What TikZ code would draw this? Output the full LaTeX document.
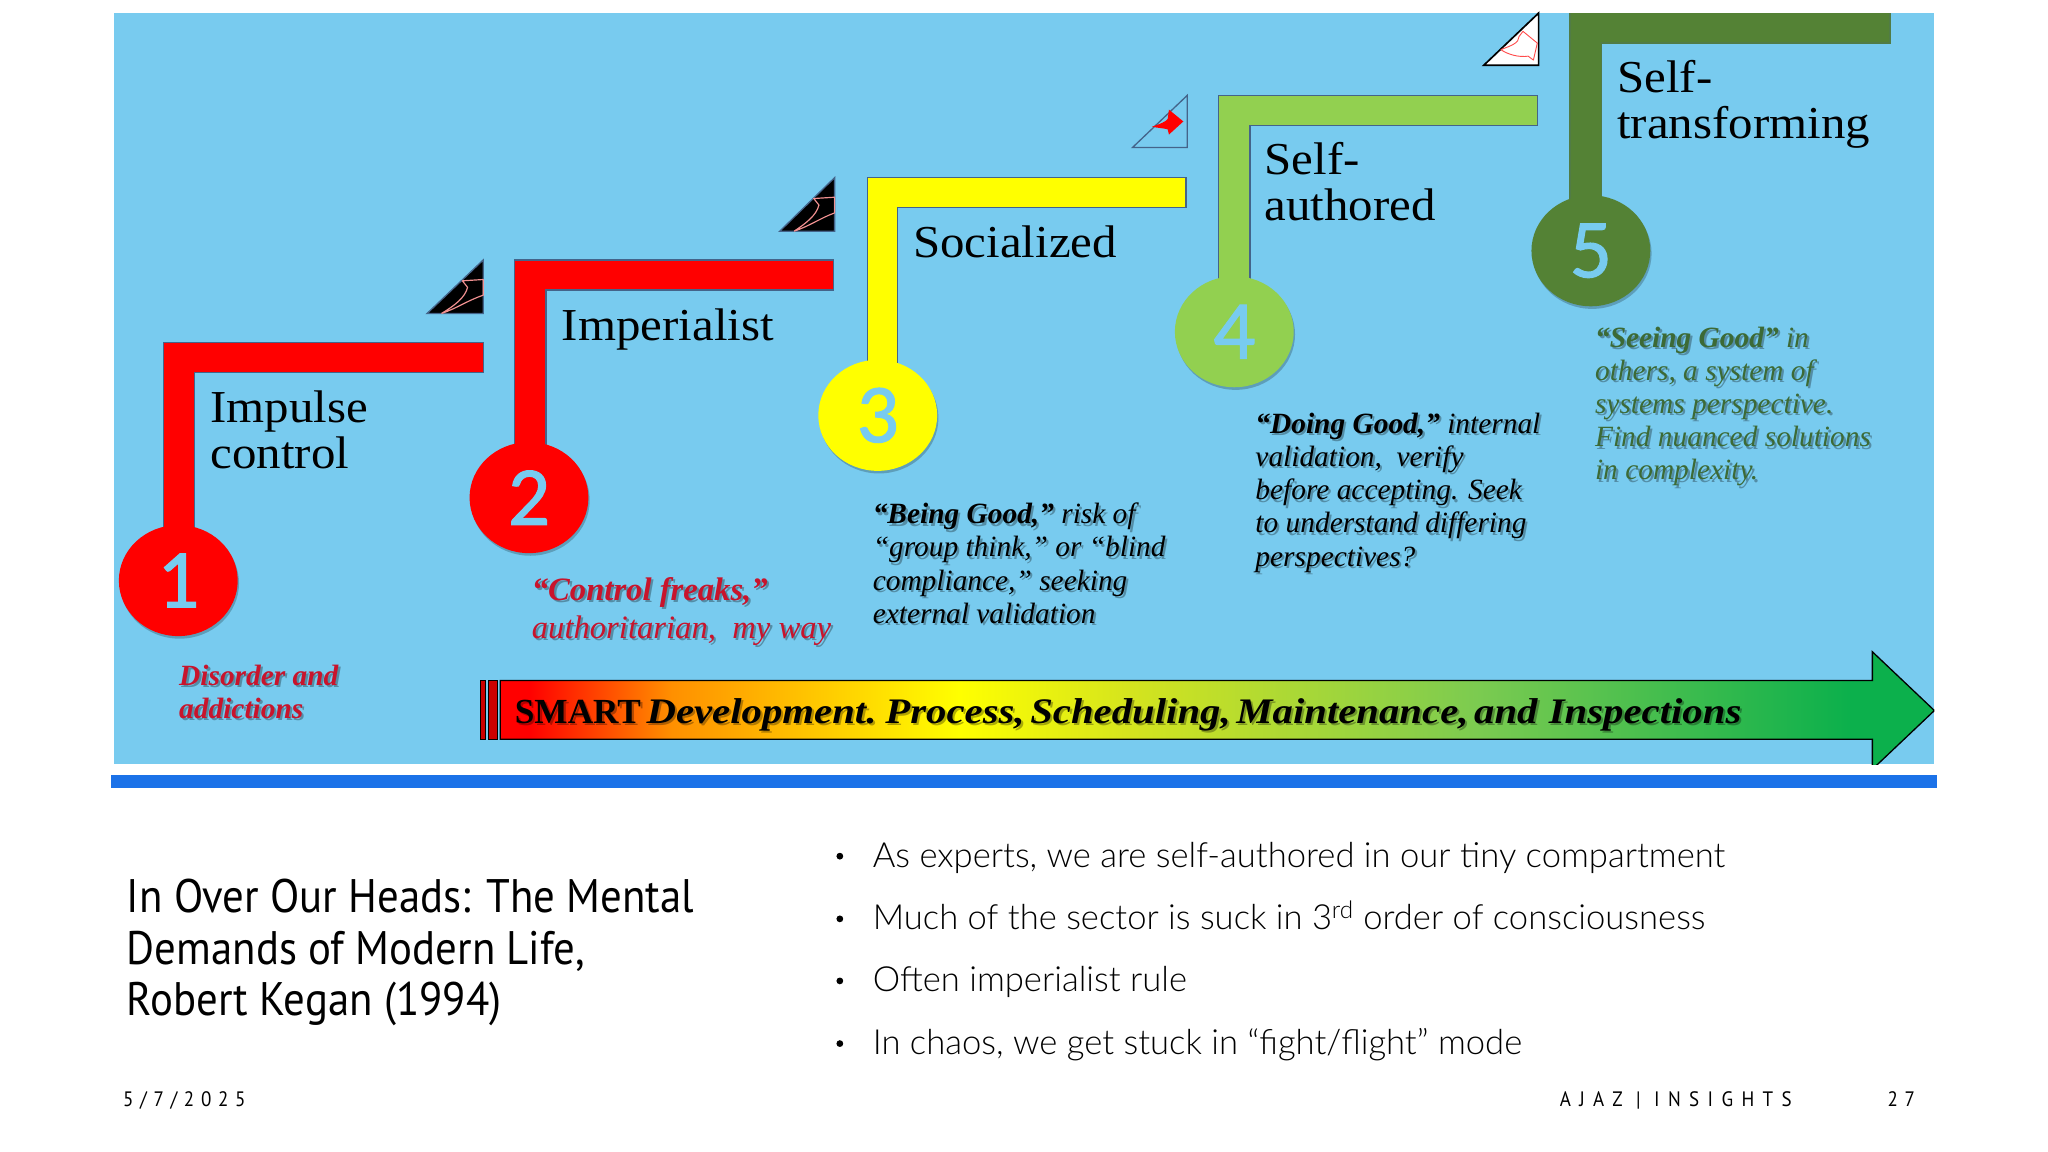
\documentclass[tikz,border=0pt]{standalone}
\usepackage{fontspec}
\usetikzlibrary{shapes.geometric,shadows}
\setmainfont{Liberation Serif}
\newfontfamily\stepfont[FakeStretch=1.07]{Liberation Serif}
\newfontfamily\notefont{Liberation Serif}
\newfontfamily\arrowfont[FakeStretch=1.135,WordSpace=0.55]{Liberation Serif}
\newfontfamily\digitfont[FakeBold=1.2]{Carlito}
\newfontfamily\dinfont{Lato Light}
\newfontfamily\dintitle[FakeStretch=0.91]{PT Sans}
\definecolor{panelblue}{HTML}{78CBEF}
\definecolor{barblue}{HTML}{1B72E8}
\definecolor{stepred}{HTML}{FF0000}
\definecolor{stepyellow}{HTML}{FFFF00}
\definecolor{steplime}{HTML}{92D050}
\definecolor{stepgreen}{HTML}{548235}
\definecolor{edgegrey}{HTML}{44648A}
\definecolor{notered}{HTML}{C8142C}
\definecolor{notegreen}{HTML}{3C6A36}
\definecolor{swoosh}{HTML}{F09090}
\definecolor{gradorange}{HTML}{FF9000}
\definecolor{gradolive}{HTML}{D4E41E}
\definecolor{gradlime}{HTML}{7CCB50}
\definecolor{gradgreen}{HTML}{0CB04C}
\pgfdeclarehorizontalshading{smartgrad}{100bp}{
 color(0bp)=(stepred); color(26bp)=(stepred); color(31bp)=(gradorange); color(41bp)=(stepyellow);
 color(47bp)=(gradolive); color(59bp)=(gradlime); color(72bp)=(gradgreen); color(100bp)=(gradgreen)}
\tikzset{
 x=1pt,y=-1pt,
 lshape/.style={draw=edgegrey,line width=1pt},
 disc/.style={ellipse,minimum width=91pt,minimum height=85pt,inner sep=0pt,text=panelblue,
   font=\digitfont\fontsize{64}{64}\selectfont,
   drop shadow={shadow xshift=1pt,shadow yshift=-2pt,opacity=.22,fill=black}},
 steplabel/.style={anchor=north west,inner sep=0pt,align=left,text=black,
   font=\stepfont\fontsize{35}{35}\selectfont},
 note/.style={anchor=north west,inner sep=0pt,align=left,
   font=\notefont\fontsize{22.5}{25.4}\selectfont\itshape},
 bignote/.style={note,font=\notefont\fontsize{25}{29}\selectfont\itshape},
 softshadow/.style={opacity=.3,text=black,xshift=1.6pt,yshift=-1.8pt},
 arrowlabel/.style={anchor=base west,inner sep=0pt,text=black,font=\arrowfont\fontsize{27.5}{30}\selectfont\bfseries},
 wedge/.style={line width=1pt},
 bodytext/.style={anchor=base west,inner sep=0pt,text=black,font=\dinfont\fontsize{26.5}{26.5}\selectfont},
 foot/.style={anchor=base west,inner sep=0pt,text=black,font=\dintitle\fontsize{16}{16}\selectfont\addfontfeature{LetterSpace=32}},
 brandfoot/.style={foot,font=\dintitle\fontsize{16}{16}\selectfont\addfontfeature{LetterSpace=40}}
}
\newcommand{\notetextA}{\textbf{Disorder and}\\\textbf{addictions}}
\newcommand{\notetextB}{\textbf{“Control freaks,”}\\authoritarian,\ \ my way}
\newcommand{\notetextC}{\textbf{“Being Good,”} risk of\\“group think,” or “blind\\compliance,” seeking\\external validation}
\newcommand{\notetextD}{\textbf{“Doing Good,”} internal\\validation,\ \ verify\\before accepting. Seek\\to understand differing\\perspectives?}
\newcommand{\notetextE}{\textbf{“Seeing Good”} in\\others, a system of\\systems perspective.\\Find nuanced solutions\\in complexity.}
\newcommand{\arrowtextstr}{{\notefont\fontsize{27}{30}\selectfont SMART} \textit{Development. Process, Scheduling, Maintenance, and\ \ Inspections}}
\begin{document}
\begin{tikzpicture}
\useasboundingbox (0,0) rectangle (1568,882);
\fill[white] (0,0) rectangle (1568,882);
% picture panel
\fill[panelblue] (87,10) rectangle (1481,585);
\fill[barblue] (85,593) rectangle (1483,603);

% L-shaped stairs
\draw[lshape,fill=stepred] (125,420) |- (370,262) |- (149,285) -- (149,420) -- cycle;
\draw[lshape,fill=stepred] (394,360) |- (638,199) |- (418,222) -- (418,360) -- cycle;
\draw[lshape,fill=stepyellow] (664,300) |- (908,136) |- (687,159) -- (687,300) -- cycle;
\draw[lshape,fill=steplime] (933,230) |- (1177,73) |- (957,96) -- (957,230) -- cycle;
\begin{scope}
\clip (87,10) rectangle (1481,585);
\draw[lshape,draw=stepgreen!80!edgegrey,fill=stepgreen] (1202,170) |- (1447,5) |- (1226,33) -- (1226,170) -- cycle;
\end{scope}

% discs
\node[disc,fill=stepred] (d1) at (136.5,444.5) {1};
\node[disc,fill=stepred] (d2) at (405,381) {2};
\node[disc,fill=stepyellow] (d3) at (672,318) {3};
\node[disc,fill=steplime] (d4) at (945,254) {4};
\node[disc,fill=stepgreen] (d5) at (1218,192) {5};

% wedges
\draw[wedge,draw=edgegrey,fill=black] (327,240) -- (370,240) -- (370,199) -- cycle;
\draw[swoosh,line width=.9pt,line join=round] (338,240) .. controls (350,236) and (358,230) .. (370,226) -- (370,214) -- (354,215) -- (358,220) .. controls (356,228) and (348,234) .. (338,240);
\draw[wedge,draw=edgegrey,fill=black] (597,177) -- (639,177) -- (639,136) -- cycle;
\draw[swoosh,line width=.9pt,line join=round] (608,177) .. controls (620,173) and (628,167) .. (639,163) -- (639,151) -- (623,152) -- (627,157) .. controls (625,165) and (617,171) .. (608,177);
\draw[wedge,draw=edgegrey] (867,113) -- (909,113) -- (909,73) -- cycle;
\fill[red] (882,97) .. controls (888,95) and (893,93) .. (894,91) -- (895,84) -- (906,93) -- (895,103) -- (894,99) .. controls (890,98) and (886,98) .. (882,97) -- cycle;
\draw[wedge,draw=black,line width=1.3pt,fill=white] (1136,50) -- (1178,50) -- (1178,10) -- cycle;
\draw[red!70!white,line width=.7pt,line join=round] (1149,38) .. controls (1157,35) and (1163,33) .. (1163,28) -- (1166,24) -- (1177,33) -- (1174,46) -- (1170,43) .. controls (1163,44) and (1155,42) .. (1149,38);

% progress arrow
\begin{scope}
\clip (87,10) rectangle (1481,585);
\fill[stepred!80!black,draw=black,line width=.6pt] (368,521) rectangle (372,566);
\fill[stepred!80!black,draw=black,line width=.6pt] (374,521) rectangle (381,566);
\path[draw=black,line width=1pt,shading=smartgrad,shading angle=0] (383,521) -- (1433.5,521) -- (1433.5,499) -- (1481,544) -- (1433.5,589) -- (1433.5,566) -- (383,566) -- cycle;
\end{scope}
\node[arrowlabel,softshadow] (arrowshadow) at (394,554) {\arrowtextstr};
\node[arrowlabel] (arrowtext) at (394,554) {\arrowtextstr};

% step labels
\node[steplabel] (l1) at (161,299) {Impulse\\control};
\node[steplabel] (l2) at (430,236) {Imperialist};
\node[steplabel] (l3) at (699,173) {Socialized};
\node[steplabel] (l4) at (968,109) {Self-\\authored};
\node[steplabel] (l5) at (1238,46) {Self-\\transforming};

% notes
\node[note,softshadow] (n1s) at (137,509) {\notetextA};
\node[note,text=notered] (n1) at (137,509) {\notetextA};
\node[bignote,softshadow] (n2s) at (407,442) {\notetextB};
\node[bignote,text=notered] (n2) at (407,442) {\notetextB};
\node[note,softshadow] (n3s) at (668,385) {\notetextC};
\node[note,text=black] (n3) at (668,385) {\notetextC};
\node[note,softshadow] (n4s) at (961,316) {\notetextD};
\node[note,text=black] (n4) at (961,316) {\notetextD};
\node[note,softshadow] (n5s) at (1221,250) {\notetextE};
\node[note,text=notegreen] (n5) at (1221,250) {\notetextE};

% lower text
\node[anchor=north west,inner sep=0pt,align=left,text=black,font=\dintitle\fontsize{36}{39.3}\selectfont] (title) at (97,673)
 {In Over Our Heads: The Mental\\Demands of Modern Life,\\Robert Kegan (1994)};
\node[bodytext] (b1) at (668,664) {As experts, we are self-authored in our tiny compartment};
\node[bodytext] (b2) at (668,712) {Much of the sector is suck in 3\textsuperscript{rd} order of consciousness};
\node[bodytext] (b3) at (668,759) {Often imperialist rule};
\node[bodytext] (b4) at (668,807) {In chaos, we get stuck in “fight/flight” mode};
\fill[black] (643,655.5) circle (2.6);
\fill[black] (643,703.5) circle (2.6);
\fill[black] (643,751) circle (2.6);
\fill[black] (643,799) circle (2.6);

\node[foot] (date) at (94,847) {5/7/2025};
\node[brandfoot] (brand) at (1194,847) {AJAZ | INSIGHTS};
\node[foot] (page) at (1445,847) {27};
\end{tikzpicture}
\end{document}
